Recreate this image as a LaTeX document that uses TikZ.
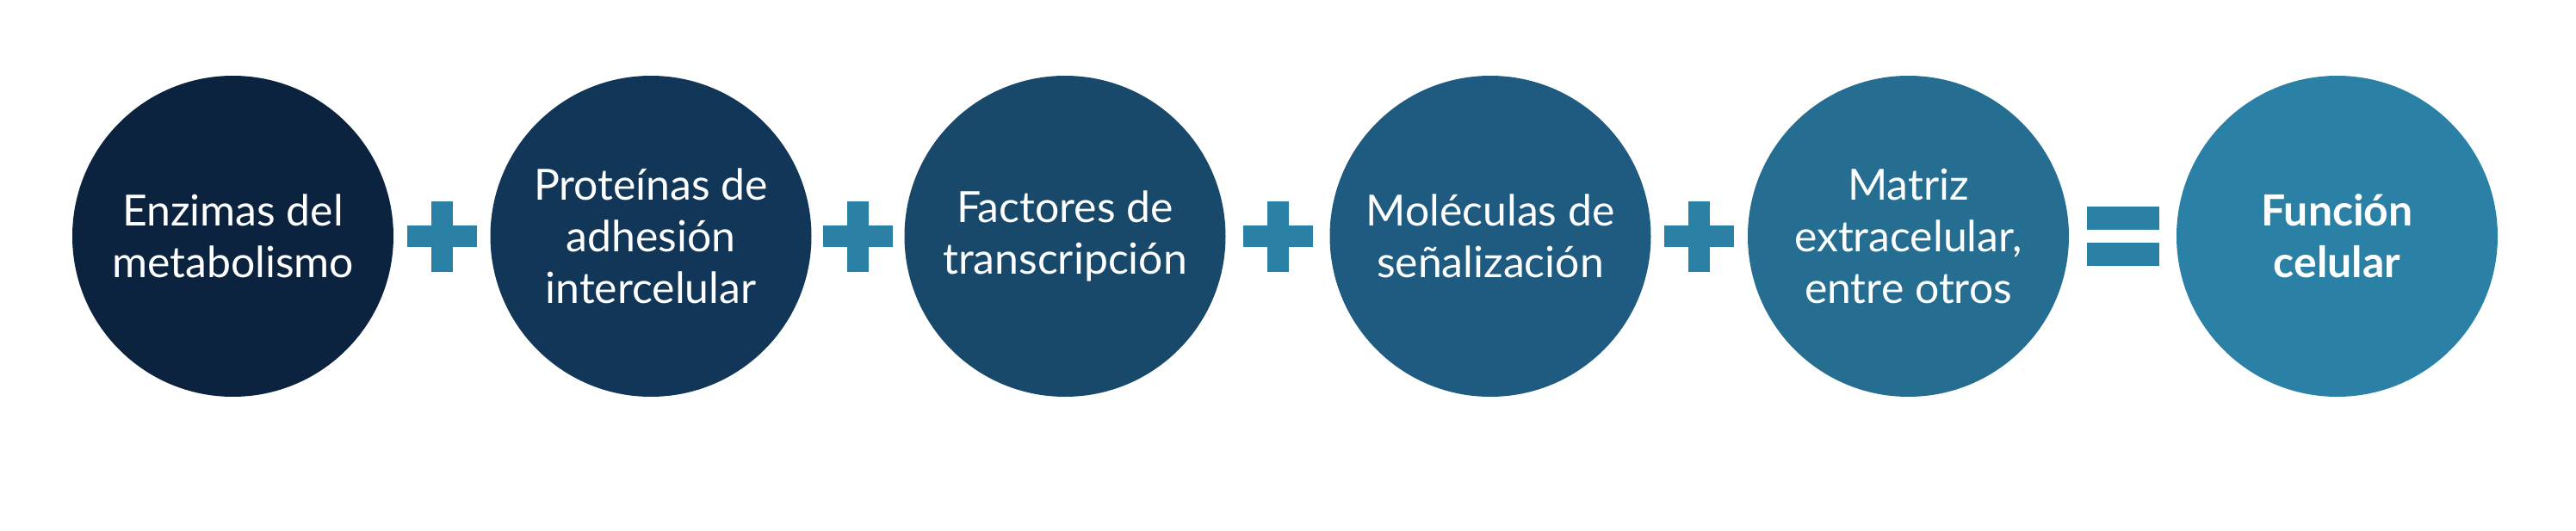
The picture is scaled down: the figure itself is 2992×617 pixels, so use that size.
\documentclass[tikz,border=0pt]{standalone}
\usepackage{fontspec}
\setmainfont{Lato}
\usetikzlibrary{calc}

\definecolor{cellA}{RGB}{12,35,64}
\definecolor{cellB}{RGB}{18,54,88}
\definecolor{cellC}{RGB}{24,73,107}
\definecolor{cellD}{RGB}{31,91,128}
\definecolor{cellE}{RGB}{37,110,146}
\definecolor{cellF}{RGB}{43,129,165}

\begin{document}
\begin{tikzpicture}[x=0.1mm, y=-0.1mm,
    cell/.style={circle, minimum size=37.3mm, inner sep=0pt, text=white,
        align=center, font=\fontsize{14.2}{17}\selectfont}]

\useasboundingbox (0,0) rectangle (2992,617);

\node[cell, fill=cellA] (enz)  at (270.5,274.5)  {Enzimas del\\metabolismo};
\node[cell, fill=cellB] (prot) at (756,274.5)    {Proteínas de\\adhesión\\intercelular};
\node[cell, fill=cellC] (fact) at (1237,274.5)   {Factores de\\transcripción};
\node[cell, fill=cellD] (mol)  at (1731,274.5)   {Moléculas de\\señalización};
\node[cell, fill=cellE] (mat)  at (2216.5,274.5) {Matriz\\extracelular,\\entre otros};
\node[cell, fill=cellF, font=\fontsize{14.2}{17}\selectfont\bfseries] (func) at (2714.5,274.5) {Función\\celular};

% plus signs between the circles
\foreach \a/\b in {enz/prot, prot/fact, fact/mol, mol/mat} {
    \begin{scope}[shift={($(\a)!0.5!(\b)$)}]
    \fill[cellF] (-40.5,-12.5) rectangle (40.5,12.5);
    \fill[cellF] (-12.5,-41) rectangle (12.5,41);
    \end{scope}
}

% equals sign
\begin{scope}[shift={($(mat)!0.5!(func)$)}]
\fill[cellF] (-42,-34.3) rectangle (42,-7.8);
\fill[cellF] (-42,7.8) rectangle (42,34.3);
\end{scope}

\end{tikzpicture}
\end{document}
